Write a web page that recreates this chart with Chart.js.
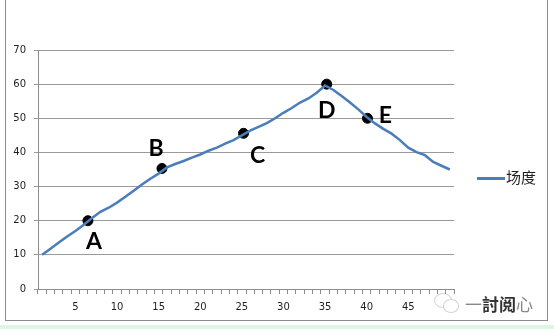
<!DOCTYPE html>
<html>
<head>
<meta charset="utf-8">
<script src="https://cdn.jsdelivr.net/npm/chart.js@4.4.0/dist/chart.umd.min.js"></script>
<style>
  html, body { margin: 0; padding: 0; background: #fff; }
  #wrap { position: relative; width: 554px; height: 329px; overflow: hidden; }
  #frame { position: absolute; left: 5px; top: -1px; width: 543px; height: 322px; border: 1px solid #8c8c8c; box-sizing: border-box; }
  #strip { position: absolute; left: 0; top: 325px; width: 554px; height: 4px; background: #dff5e4; }
  #chart { position: absolute; left: 0; top: 0; }
  #legend { position: absolute; left: 477px; top: 166px; font: 15px "Noto Sans CJK SC", sans-serif; color: #222; }
  #legend i { display: inline-block; width: 28px; height: 3px; background: #4a7ebb; vertical-align: middle; margin-right: 1px; }
  #mark { position: absolute; left: 465px; top: 291px; font: 17px "Noto Sans CJK SC", sans-serif; color: #888; }
  #mark b { font-weight: bold; color: #333; }
  .bub { position: absolute; border: 1px solid #d4d4d4; border-radius: 50%; }
</style>
</head>
<body>
<div id="wrap">
  <div id="frame"></div>
  <div id="strip"></div>
  <div class="bub" style="left:434px;top:293px;width:16px;height:13px;"></div>
  <div class="bub" style="left:443px;top:299px;width:14px;height:12px;background:#fff;"></div>
  <canvas id="chart" width="554" height="329"></canvas>
  <div id="legend"><i></i>场度</div>
  <div id="mark">一<b>討阅</b>心</div>
</div>
<script>
// --- données ---
const categories = ['1','2','3','4','5','6','7','8','9','10',
  '11','12','13','14','15','16','17','18','19','20',
  '21','22','23','24','25','26','27','28','29','30',
  '31','32','33','34','35','36','37','38','39','40',
  '41','42','43','44','45','46','47','48','49','50'];
const fieldValues = [10, 11.8, 13.6, 15.4, 17, 18.8, 20.8, 22.6, 23.8, 25.3,
  27, 28.8, 30.6, 32.3, 33.8, 35.6, 36.6, 37.5, 38.5, 39.4,
  40.5, 41.4, 42.6, 43.6, 45, 46.4, 47.5, 48.6, 50, 51.6,
  53, 54.6, 55.8, 57.5, 59.6, 58.3, 56.5, 54.6, 52.6, 50.4,
  48.5, 46.9, 45.5, 43.6, 41.4, 40.1, 39.2, 37.2, 36.1, 35];
const markX = [6.5, 15.4, 25.2, 35.2, 40.1];
const markY = [20, 35.3, 45.6, 60, 50];
const markNames = ['A', 'B', 'C', 'D', 'E'];
const yTicks = [0, 10, 20, 30, 40, 50, 60, 70];

// décalage des lettres par rapport aux points (px)
const letterOffsets = [[6, 21], [-6, -20], [14, 22], [0, 26], [18, -3]];

const gray = '#8c8c8c';

const letterPlugin = {
  id: 'letters',
  afterDatasetsDraw(chart) {
    const ctx = chart.ctx;
    const meta = chart.getDatasetMeta(1);
    ctx.save();
    ctx.font = 'bold 23px Lato, "DejaVu Sans", sans-serif';
    ctx.fillStyle = '#000';
    ctx.textAlign = 'center';
    ctx.textBaseline = 'middle';
    meta.data.forEach((pt, i) => {
      ctx.fillText(markNames[i], pt.x + letterOffsets[i][0], pt.y + letterOffsets[i][1]);
    });
    ctx.restore();
  }
};

new Chart(document.getElementById('chart'), {
  data: {
    labels: categories,
    datasets: [
      {
        type: 'line',
        label: '场度',
        data: fieldValues,
        borderColor: '#4a7ebb',
        borderWidth: 2.5,
        pointRadius: 0,
        tension: 0,
        xAxisID: 'x',
        yAxisID: 'y'
      },
      {
        type: 'scatter',
        label: 'points',
        data: markX.map((x, i) => ({ x: x, y: markY[i] })),
        backgroundColor: '#000',
        borderColor: '#000',
        pointRadius: 5,
        xAxisID: 'xm',
        yAxisID: 'y'
      }
    ]
  },
  options: {
    responsive: false,
    animation: false,
    layout: { padding: { left: 0, top: 50, right: 100, bottom: 0 } },
    plugins: { legend: { display: false }, tooltip: { enabled: false } },
    scales: {
      x: {
        type: 'category',
        offset: true,
        grid: { display: true, offset: true, drawOnChartArea: false, tickLength: 5, color: gray },
        border: { color: gray },
        ticks: {
          autoSkip: false,
          maxRotation: 0,
          padding: 7,
          color: '#1e1e1e',
          font: { family: '"DejaVu Sans"', size: 10 },
          callback: (v, i) => ((i + 1) % 5 === 0 && i < 49 ? categories[i] : '')
        },
        afterFit: s => { s.height = 40; }
      },
      xm: {
        type: 'linear',
        display: false,
        min: 0.5,
        max: 50.5
      },
      y: {
        min: 0,
        max: 70,
        afterBuildTicks: s => { s.ticks = yTicks.map(v => ({ value: v })); },
        grid: { color: '#9a9a9a', tickLength: 4 },
        border: { color: gray },
        ticks: {
          padding: 8,
          color: '#1e1e1e',
          font: { family: '"DejaVu Sans"', size: 10 }
        },
        afterFit: s => { s.width = 38; }
      }
    }
  },
  plugins: [letterPlugin]
});
</script>
</body>
</html>
